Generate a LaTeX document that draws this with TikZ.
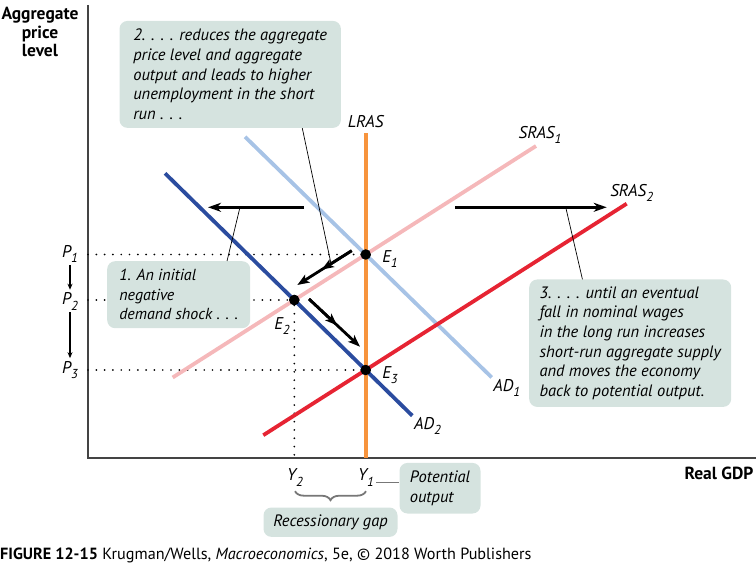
\documentclass[tikz,border=0pt]{standalone}
\usepackage{fontspec}
\setmainfont{PT Sans}
\usetikzlibrary{arrows.meta,positioning,calc,decorations.pathreplacing}

\definecolor{adlight}{HTML}{A7C3E6}
\definecolor{addark}{HTML}{2B4C9F}
\definecolor{sraslight}{HTML}{F5B8BA}
\definecolor{srasdark}{HTML}{E62433}
\definecolor{lrascol}{HTML}{F7943D}
\definecolor{notefill}{HTML}{D5E3DF}
\definecolor{axisgray}{HTML}{444444}
\definecolor{bracegray}{HTML}{777777}

\newcommand{\curvelbl}[2]{\textit{#1}\raisebox{-0.3em}{\fontsize{13}{13}\selectfont #2}}

\tikzset{
  econcurve/.style={line width=3.8pt},
  eqdot/.style={circle, fill=black, inner sep=0pt, minimum size=10.5pt},
  curvelabel/.style={font=\fontsize{17}{20}\selectfont\itshape, inner sep=0pt},
  notebox/.style={fill=notefill, rounded corners=8pt, align=left, inner xsep=0pt, inner ysep=0pt,
    anchor=north west, font=\fontsize{16.5}{19.7}\selectfont\itshape},
  guideline/.style={line width=1.9pt, dash pattern=on 0pt off 8.3pt, line cap=round},
  leaderline/.style={line width=0.7pt},
  shiftarrow/.style={line width=3.3pt, -{Stealth[length=13pt,width=9pt,inset=4pt]}},
  movearrow/.style={line width=2.8pt, -{Stealth[length=12pt,width=9pt,inset=3pt]}},
  parrow/.style={line width=1.2pt, -{Stealth[length=6pt,width=5pt]}},
}

\begin{document}
\begin{tikzpicture}[x=1pt, y=-1pt]
    \useasboundingbox (0,0) rectangle (756,567);

    % Axes
    \coordinate (origin) at (88,458);
    \coordinate (ytop) at (88,5);
    \coordinate (xend) at (756,458);
    \draw[axisgray, line width=1.3pt] (ytop) -- (origin) -- (xend);
    \node[font=\fontsize{17.5}{18.5}\selectfont\bfseries, align=center] (ylabel) at (40,32) {Aggregate\\price\\level};
    \node[font=\fontsize{17.5}{20}\selectfont\bfseries, inner sep=0pt] (xlabel) at (719,473.5) {Real GDP};

    % Equilibria
    \node[eqdot] (E1) at (365.7,254.5) {};
    \node[eqdot] (E2) at (294.3,300) {};
    \node[eqdot] (E3) at (365.7,370) {};

    % Guides to the axes
    \draw[guideline] (origin |- E1) -- (E1);
    \draw[guideline] (origin |- E2) -- (E2);
    \draw[guideline] (origin |- E3) -- (E3);
    \draw[guideline] (E2) -- (E2 |- origin);

    % Curves
    \coordinate (ad1top) at (245,136.8);
    \coordinate (ad1end) at (491.7,377.4);
    \coordinate (sras1end) at (172.7,377.5);
    \coordinate (sras1top) at (536,146);
    \coordinate (sras2end) at (263.3,435.2);
    \coordinate (sras2top) at (626.7,203.7);
    \coordinate (ad2top) at (165,173.3);
    \coordinate (ad2end) at (412.3,415.7);
    \coordinate (lrastop) at (365.7,133.3);
    \draw[econcurve, sraslight] (sras1end) -- (sras1top);
    \draw[econcurve, adlight] (ad1top) -- (ad1end);
    \draw[econcurve, srasdark] (sras2end) -- (sras2top);
    \draw[econcurve, addark] (ad2top) -- (ad2end);
    \draw[econcurve, lrascol] (lrastop) -- (lrastop |- origin);
    \node[eqdot] at (E1) {};
    \node[eqdot] at (E2) {};
    \node[eqdot] at (E3) {};

    % Curve labels
    \node[curvelabel] (lraslbl) at (365.7,121.7) {LRAS};
    \node[curvelabel] (sras1lbl) at (540,135) {\curvelbl{SRAS}{1}};
    \node[curvelabel] (sras2lbl) at (631.7,192.5) {\curvelbl{SRAS}{2}};
    \node[curvelabel] (ad1lbl) at (506.7,388) {\curvelbl{AD}{1}};
    \node[curvelabel] (ad2lbl) at (427.5,426) {\curvelbl{AD}{2}};
    \node[curvelabel] (e1lbl) at (390,259.5) {\curvelbl{E}{1}};
    \node[curvelabel] (e2lbl) at (282,326) {\curvelbl{E}{2}};
    \node[curvelabel] (e3lbl) at (390,375.5) {\curvelbl{E}{3}};
    \node[curvelabel] (P1) at (70,254) {\curvelbl{P}{1}};
    \node[curvelabel] (P2) at (70,301.5) {\curvelbl{P}{2}};
    \node[curvelabel] (P3) at (70,370) {\curvelbl{P}{3}};
    \node[curvelabel] (Y2) at (295,477.5) {\curvelbl{Y}{2}};
    \node[curvelabel] (Y1) at (366,477.5) {\curvelbl{Y}{1}};
    \draw[parrow] ([yshift=-2pt]P1.south) -- ([yshift=3pt]P2.north);
    \draw[parrow] ([yshift=-2pt]P2.south) -- ([yshift=3pt]P3.north);

    % Shifts and movements
    \coordinate (adshiftA) at (304,207.3);
    \coordinate (adshiftB) at (208,207.3);
    \coordinate (srasshiftA) at (455,207.3);
    \coordinate (srasshiftB) at (606.7,207.3);
    \draw[shiftarrow] (adshiftA) -- (adshiftB);
    \draw[shiftarrow] (srasshiftA) -- (srasshiftB);
    \coordinate (moveAs) at (351.7,250.7);
    \coordinate (moveAe) at (297.3,285);
    \coordinate (moveBs) at (309,299);
    \coordinate (moveBe) at (360,346.7);
    \draw[movearrow] (moveAs) -- (moveAe);
    \draw[movearrow] (moveAs) -- ($(moveAs)!0.55!(moveAe)$);
    \draw[movearrow] (moveBs) -- (moveBe);
    \draw[movearrow] (moveBs) -- ($(moveBs)!0.55!(moveBe)$);

    % Notes
    \node[notebox, minimum width=221.4pt, minimum height=107pt] (note2) at (119.3,20.7)
        {2. . . . reduces the aggregate\\price level and aggregate\\output and leads to higher\\unemployment in the short\\run . . .};
    \node[notebox, font=\fontsize{16}{19.5}\selectfont\itshape, minimum width=143pt, minimum height=67pt] (note1) at (107,261)
        {1. An initial\\negative\\demand shock . . .};
    \node[notebox, minimum width=202pt, minimum height=127.4pt] (note3) at (529,279.3)
        {3. . . . until an eventual\\fall in nominal wages\\in the long run increases\\short-run aggregate supply\\and moves the economy\\back to potential output.};
    \node[notebox, minimum width=81pt, minimum height=50.6pt] (potnote) at (399.3,462.7)
        {Potential\\output};
    \node[notebox, align=center, minimum width=134pt, minimum height=29.4pt] (gapnote) at (263.3,507.3)
        {Recessionary gap};

    % Leaders
    \draw[leaderline] ($(note2.south west)!0.825!(note2.south east)$) -- ($(moveAs)!0.38!(moveAe)$);
    \draw[leaderline] ($(note1.north west)!0.837!(note1.north east)$) -- ($(adshiftA)!0.667!(adshiftB)$);
    \draw[leaderline] ($(note3.north west)!0.264!(note3.north east)$) -- ($(srasshiftA)!0.73!(srasshiftB)$);
    \coordinate (tieA) at (376,482.3);
    \draw[bracegray, line width=1.5pt] (tieA) -- (tieA -| potnote.west);
    \draw[bracegray, line width=1.8pt, decorate, decoration={brace, mirror, amplitude=9pt}]
        ([yshift=-5pt]Y2.south) -- ([yshift=-5pt]Y2.south -| Y1.south);

    % Caption
    \node[anchor=west, inner sep=0pt, font=\fontsize{16.2}{18}\selectfont] (caption) at (0,555)
        {\textbf{FIGURE 12-15} Krugman/Wells, \textit{Macroeconomics}, 5e, © 2018 Worth Publishers};
\end{tikzpicture}
\end{document}
